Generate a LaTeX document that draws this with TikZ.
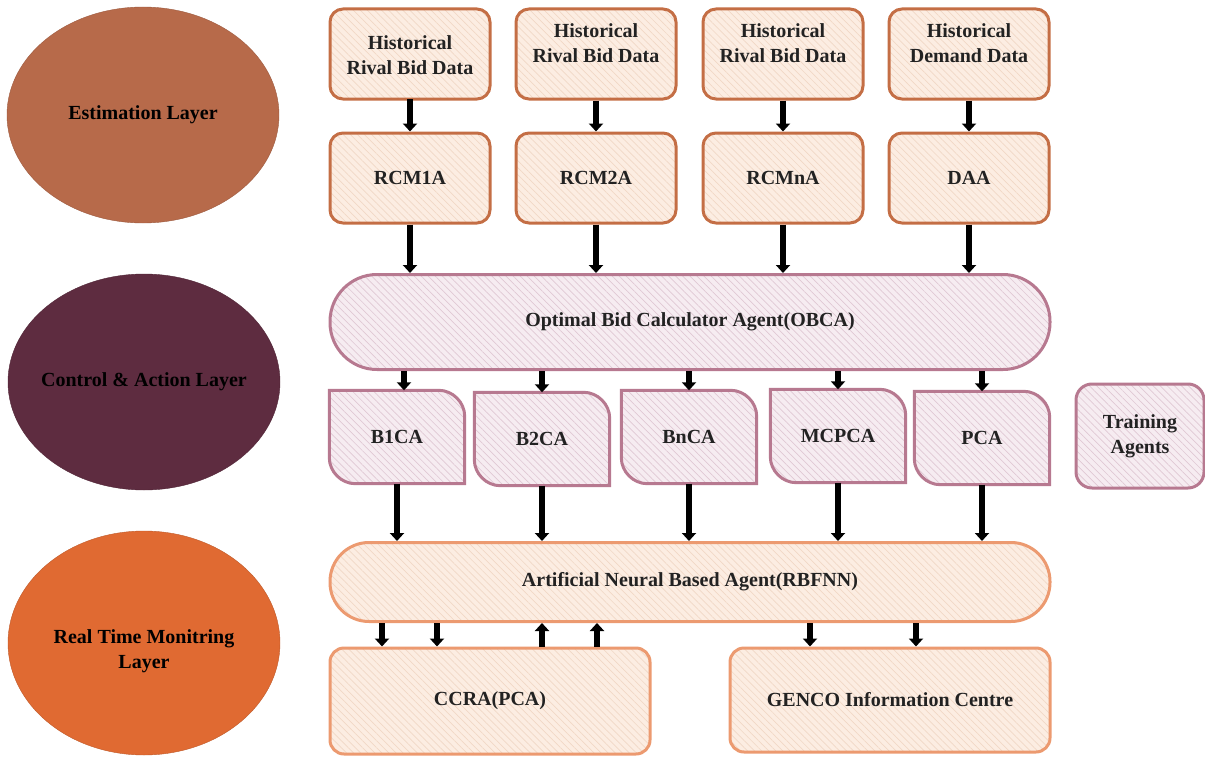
\documentclass[tikz,border=0pt]{standalone}
\usepackage{fontspec}
\setmainfont{Liberation Serif}
\usetikzlibrary{shapes.geometric,patterns.meta,arrows.meta,backgrounds,calc}
\definecolor{peach}{HTML}{FCEDE2}
\definecolor{peachhatch}{HTML}{F1D8C6}
\definecolor{brownb}{HTML}{C46E45}
\definecolor{orangeb}{HTML}{EC9A70}
\definecolor{mauvef}{HTML}{F6ECF1}
\definecolor{mauveh}{HTML}{E0C8D4}
\definecolor{mauveb}{HTML}{B77990}
\definecolor{layerA}{HTML}{B76A4A}
\definecolor{layerB}{HTML}{5E2C40}
\definecolor{layerC}{HTML}{E06A32}
\definecolor{txt}{HTML}{222222}
\begin{document}
\begin{tikzpicture}[x=1pt,y=-1pt,
  every node/.style={font=\fontsize{20}{25}\selectfont\bfseries, text=txt},
  hatchpeach/.style={preaction={fill=peach}, pattern={Lines[angle=-45,distance=5pt,line width=0.7pt]}, pattern color=peachhatch},
  hatchmauve/.style={preaction={fill=mauvef}, pattern={Lines[angle=-45,distance=5pt,line width=0.7pt]}, pattern color=mauveh},
  topbox/.style={draw=brownb, line width=3pt, rounded corners=13pt, hatchpeach, minimum width=160, minimum height=90, align=center, inner sep=0},
  pill/.style={line width=3pt, inner sep=0, minimum width=720},
  lowbox/.style={draw=orangeb, line width=3pt, rounded corners=14pt, hatchpeach, minimum width=320, inner sep=0},
  agentbox/.style={minimum width=135, minimum height=93, inner sep=0},
  agentdraw/.style={draw=mauveb, line width=3pt, hatchmauve},
  layer/.style={ellipse, minimum width=272, minimum height=216, inner sep=0, text=black},
  arr/.style={line width=6pt, black, -{Triangle[width=14pt,length=8pt]}}
]
\path[use as bounding box] (0,0) rectangle (1205,760);

% layer ellipses
\node[layer, fill=layerA, draw=layerA!85!black] (est) at (143,115) {\makebox[0pt]{Estimation Layer}};
\node[layer, fill=layerB, draw=layerB!85!black] (ctl) at (144,382) {\makebox[0pt]{Control \& Action Layer}};
\node[layer, fill=layerC, draw=layerC!85!black, minimum height=224] (rtm) at (144,643) {\makebox[0pt]{\raisebox{-13pt}[0pt][0pt]{\begin{tabular}{@{}c@{}}Real Time Monitring\\Layer\end{tabular}}}};

% historical data boxes
\node[topbox, label={[align=center,yshift=-1pt]center:Historical\\Rival Bid Data}] (h1) at (410,54) {};
\node[topbox, label={[align=center,yshift=11pt]center:Historical\\Rival Bid Data}] (h2) at (596,54) {};
\node[topbox, label={[align=center,yshift=11pt]center:Historical\\Rival Bid Data}] (h3) at (783,54) {};
\node[topbox, label={[align=center,yshift=11pt]center:Historical\\Demand Data}] (h4) at (969,54) {};

% estimation agents
\node[topbox] (r1) at (410,178) {RCM1A};
\node[topbox] (r2) at (596,178) {RCM2A};
\node[topbox] (r3) at (783,178) {RCMnA};
\node[topbox] (r4) at (969,178) {DAA};

% OBCA
\node[pill, draw=mauveb, hatchmauve, minimum height=95, rounded corners=47pt] (obca) at (690,322) {Optimal Bid Calculator Agent(OBCA)};

% control agents
\node[agentbox] (a1) at (397,437) {B1CA};
\node[agentbox] (a2) at (542,439) {B2CA};
\node[agentbox] (a3) at (689,437) {BnCA};
\node[agentbox] (a4) at (838,436) {MCPCA};
\node[agentbox] (a5) at (982,438) {PCA};
\begin{scope}[on background layer]
\foreach \a in {a1,a2,a3,a4,a5}{
  \path[agentdraw] (\a.north west) -- ($(\a.north east)+(-26,0)$)
    .. controls ($(\a.north east)+(-12,0)$) and ($(\a.north east)+(0,12)$) .. ($(\a.north east)+(0,26)$)
    -- (\a.south east) -- ($(\a.south west)+(26,0)$)
    .. controls ($(\a.south west)+(12,0)$) and ($(\a.south west)+(0,-12)$) .. ($(\a.south west)+(0,-26)$)
    -- cycle;
}
\end{scope}
\node[draw=mauveb, line width=3pt, hatchmauve, rounded corners=16pt, minimum width=128, minimum height=104, inner sep=0, align=center] (ta) at (1140,436) {Training\\Agents};

% RBFNN
\node[pill, draw=orangeb, hatchpeach, minimum height=79, rounded corners=39pt] (rbf) at (690,582) {Artificial Neural Based Agent(RBFNN)};

% bottom boxes
\node[lowbox, minimum height=106] (ccra) at (490,701) {CCRA(PCA)};
\node[lowbox, minimum height=104] (genco) at (890,700) {GENCO Information Centre};

% arrows: historical -> agents
\foreach \i in {1,2,3,4}{
  \draw[arr] (h\i.south) -- (r\i.north);
  \draw[arr] (r\i.south) -- (r\i.south |- obca.north);
}
% OBCA -> control agents
\draw[arr] ([xshift=7pt]a1.north |- obca.south) -- ([xshift=7pt]a1.north);
\foreach \a in {a2,a3,a4,a5}{
  \draw[arr] (\a.north |- obca.south) -- (\a.north);
}
% control agents -> RBFNN
\foreach \a in {a1,a2,a3,a4,a5}{
  \draw[arr] (\a.south) -- (\a.south |- rbf.north);
}
% RBFNN <-> CCRA
\draw[arr] ([xshift=-108pt]ccra.north |- rbf.south) -- ([xshift=-108pt]ccra.north);
\draw[arr] ([xshift=-53pt]ccra.north |- rbf.south) -- ([xshift=-53pt]ccra.north);
\draw[arr] ([xshift=52pt]ccra.north) -- ([xshift=52pt]ccra.north |- rbf.south);
\draw[arr] ([xshift=107pt]ccra.north) -- ([xshift=107pt]ccra.north |- rbf.south);
% RBFNN -> GENCO
\draw[arr] ([xshift=-80pt]genco.north |- rbf.south) -- ([xshift=-80pt]genco.north);
\draw[arr] ([xshift=26pt]genco.north |- rbf.south) -- ([xshift=26pt]genco.north);
\end{tikzpicture}
\end{document}
